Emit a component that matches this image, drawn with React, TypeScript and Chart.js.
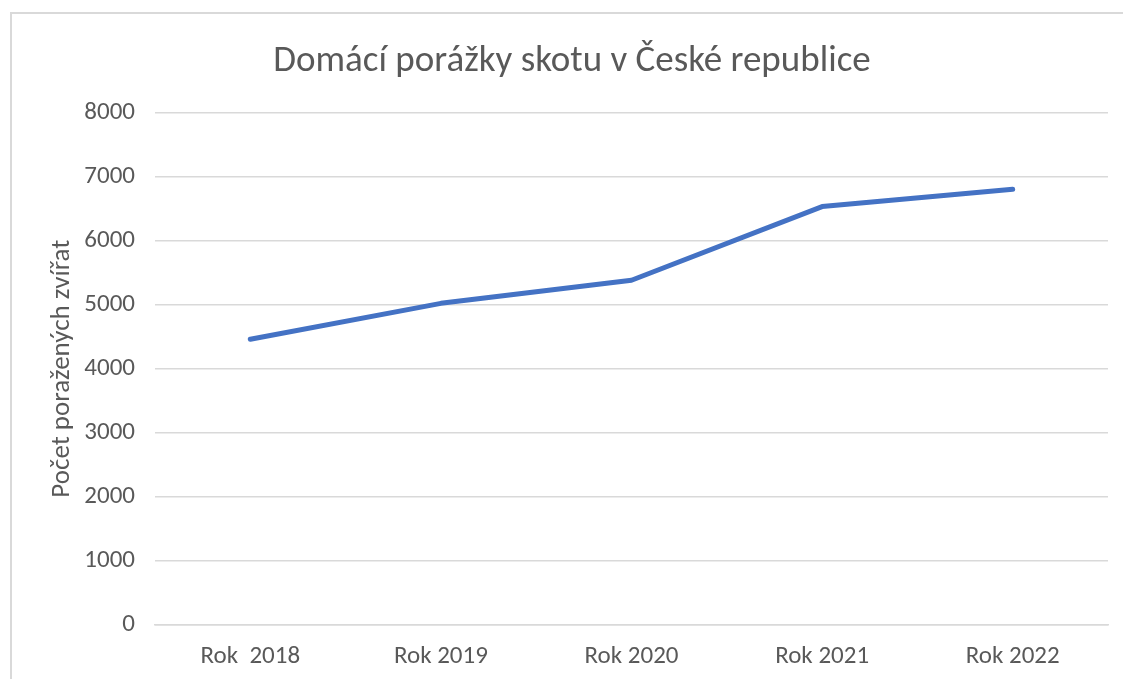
import React, { useEffect, useRef } from "react";
import { Chart, registerables } from "chart.js";

Chart.register(...registerables);

const categories = ["Rok  2018", "Rok 2019", "Rok 2020", "Rok 2021", "Rok 2022"];
const slaughtered = [4460, 5020, 5380, 6530, 6800];
const yTicks = [0, 1000, 2000, 3000, 4000, 5000, 6000, 7000, 8000];

const chartTitle = "Domácí porážky skotu v České republice";
const yTitle = "Počet poražených zvířat";

const FONT = "Carlito, Calibri, Lato, 'Open Sans', sans-serif";
const GRAY_TEXT = "#595959";
const GRID = "#d9d9d9";

export default function App() {
  const ref = useRef<HTMLCanvasElement | null>(null);

  useEffect(() => {
    if (!ref.current) return;
    const chart = new Chart(ref.current, {
      type: "line",
      data: {
        labels: categories,
        datasets: [
          {
            label: yTitle,
            data: slaughtered,
            borderColor: "#4472C4",
            backgroundColor: "#4472C4",
            borderWidth: 5,
            borderCapStyle: "round",
            borderJoinStyle: "round",
            pointRadius: 0,
            tension: 0,
          },
        ],
      },
      options: {
        responsive: true,
        maintainAspectRatio: false,
        animation: false,
        layout: { padding: { left: 36, right: 15, top: 0, bottom: 0 } },
        plugins: {
          legend: { display: false },
          tooltip: { enabled: false },
          title: {
            display: true,
            text: chartTitle,
            color: GRAY_TEXT,
            font: { family: FONT, size: 37, weight: "normal", lineHeight: 1.2 },
            padding: { top: 40, bottom: 28 },
          },
        },
        scales: {
          x: {
            offset: true,
            grid: { display: false, drawTicks: false },
            border: { display: true, color: GRID, width: 1.5 },
            ticks: {
              color: GRAY_TEXT,
              font: { family: FONT, size: 25 },
              padding: 17,
              maxRotation: 0,
            },
            afterFit: (scale: any) => {
              scale.height = 54;
            },
          },
          y: {
            min: 0,
            max: 8000,
            afterBuildTicks: (scale: any) => {
              scale.ticks = yTicks.map((v) => ({ value: v }));
            },
            grid: { color: GRID, lineWidth: 1.5, drawTicks: false },
            border: { display: false },
            ticks: {
              color: GRAY_TEXT,
              font: { family: FONT, size: 25 },
              padding: 20,
              callback: (v: any) => String(v),
            },
            title: {
              display: true,
              text: yTitle,
              color: GRAY_TEXT,
              font: { family: FONT, size: 27 },
              padding: { top: 10, bottom: 0 },
            },
            afterFit: (scale: any) => {
              scale.width = 119;
            },
          },
        },
      },
    });
    return () => chart.destroy();
  }, []);

  return (
    <div
      style={{
        position: "fixed",
        left: 0,
        top: 0,
        width: 1123,
        height: 679,
        overflow: "hidden",
        background: "#ffffff",
      }}
    >
      <div
        style={{
          position: "absolute",
          left: 10,
          top: 12,
          width: 1200,
          height: 800,
          border: "2px solid #d9d9d9",
        }}
      />
      <div style={{ position: "absolute", left: 0, top: 0, width: 1123, height: 679 }}>
        <canvas ref={ref} />
      </div>
    </div>
  );
}
